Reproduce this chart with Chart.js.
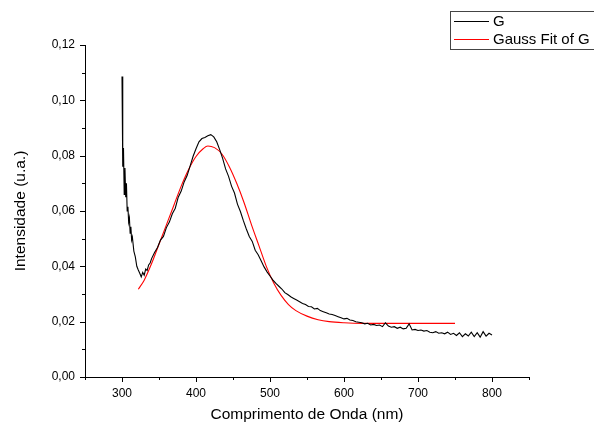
<!DOCTYPE html>
<html>
<head>
<meta charset="utf-8">
<script src="https://cdn.jsdelivr.net/npm/chart.js@4/dist/chart.umd.min.js"></script>
<style>
  html, body { margin: 0; padding: 0; background: #fff; }
  #wrap { width: 594px; height: 425px; }
</style>
</head>
<body>
<div id="wrap"><canvas id="chart"></canvas></div>
<script>
// dados
const gNm = [300, 301, 302, 303, 304, 305, 306, 307, 308, 309, 310, 311, 312, 313, 314, 316, 318, 320,
  322, 324, 326, 328, 330, 332, 334, 336, 338, 340, 344, 348, 352, 356, 360, 364, 368, 372, 376, 380,
  384, 388, 392, 396, 400, 404, 408, 412, 416, 420, 424, 428, 432, 436, 440, 444, 448, 452, 456, 460,
  464, 468, 472, 476, 480, 484, 488, 492, 496, 500, 504, 508, 512, 516, 520, 524, 528, 532, 536, 540,
  544, 548, 552, 556, 560, 564, 568, 572, 576, 580, 584, 588, 592, 596, 600, 604, 608, 612, 616, 620,
  624, 628, 632, 636, 640, 644, 648, 652, 656, 660, 664, 668, 672, 676, 680, 684, 688, 692, 696, 700,
  704, 708, 712, 716, 720, 724, 728, 732, 736, 740, 744, 748, 752, 756, 760, 764, 768, 772, 776, 780,
  784, 788, 792, 796, 800];
const gVal = [0.1086, 0.076, 0.0828, 0.066, 0.0755, 0.065, 0.070, 0.060, 0.0615, 0.056, 0.0575, 0.052, 0.0543, 0.0495, 0.0506, 0.0455, 0.0434, 0.0400,
  0.0387, 0.0375, 0.0362, 0.0378, 0.0368, 0.0390, 0.0385, 0.0405, 0.0412, 0.0428, 0.0450, 0.0468, 0.0495, 0.0508, 0.0540, 0.0560, 0.0590, 0.0610, 0.0650, 0.0672,
  0.0705, 0.0728, 0.0762, 0.0797, 0.0825, 0.0850, 0.0862, 0.0866, 0.0872, 0.0876, 0.0868, 0.0850, 0.0822, 0.0790, 0.0752, 0.0725, 0.0690, 0.0665, 0.0625, 0.0598,
  0.0565, 0.0535, 0.0508, 0.0490, 0.0458, 0.0442, 0.0420, 0.0398, 0.0380, 0.0365, 0.0350, 0.0338, 0.0328, 0.0318, 0.0305, 0.0298, 0.0290, 0.0284, 0.0278, 0.0272,
  0.0266, 0.0262, 0.0255, 0.0254, 0.0246, 0.0248, 0.0240, 0.0236, 0.0232, 0.0228, 0.0226, 0.0222, 0.0218, 0.0214, 0.0210, 0.0212, 0.0206, 0.0204, 0.0200, 0.0198,
  0.0196, 0.0192, 0.0194, 0.0188, 0.0190, 0.0186, 0.0188, 0.0182, 0.0196, 0.0184, 0.0180, 0.0182, 0.0176, 0.0180, 0.0174, 0.0176, 0.0192, 0.0170, 0.0172, 0.0168,
  0.0170, 0.0166, 0.0168, 0.0162, 0.0160, 0.0164, 0.0158, 0.0160, 0.0156, 0.0162, 0.0154, 0.0158, 0.0150, 0.0160, 0.0146, 0.0156, 0.0148, 0.0162, 0.0146, 0.0160,
  0.0144, 0.0164, 0.0148, 0.0158, 0.0152];

const fitNm = [322, 330, 340, 350, 360, 370, 380, 390, 400, 410, 416, 425, 435, 445, 455, 465, 475, 485,
  495, 505, 515, 525, 535, 550, 565, 580, 600, 625, 650, 700, 750];
const fitVal = [0.0317, 0.0350, 0.0410, 0.0480, 0.0550, 0.0620, 0.0690, 0.0750, 0.0797, 0.0826, 0.0835, 0.0829, 0.0806, 0.0760, 0.0700, 0.0630, 0.0550, 0.0475,
  0.0400, 0.0340, 0.0295, 0.0262, 0.0240, 0.0220, 0.0207, 0.0200, 0.0196, 0.0194, 0.0194, 0.0194, 0.0194];

const xTicks = [300, 400, 500, 600, 700, 800];
const xMinor = [250, 350, 450, 550, 650, 750, 850];
const yTicks = [0, 0.02, 0.04, 0.06, 0.08, 0.10, 0.12];
const yMinor = [0.01, 0.03, 0.05, 0.07, 0.09, 0.11];

const FONT = "'Liberation Sans', Arial, sans-serif";

function pts(xs, ys) {
  return xs.map(function (x, i) { return { x: x, y: ys[i] }; });
}

// marcas dos eixos (maiores e menores)
const tickMarks = {
  id: 'tickMarks',
  afterDraw: function (chart) {
    const ctx = chart.ctx;
    const xs = chart.scales.x, ys = chart.scales.y;
    const a = chart.chartArea;
    ctx.save();
    ctx.strokeStyle = '#000';
    ctx.lineWidth = 1;
    ctx.beginPath();
    xTicks.forEach(function (v) {
      const p = Math.round(xs.getPixelForValue(v)) + 0.5;
      ctx.moveTo(p, a.bottom); ctx.lineTo(p, a.bottom + 5);
    });
    xMinor.forEach(function (v) {
      const p = Math.round(xs.getPixelForValue(v)) + 0.5;
      ctx.moveTo(p, a.bottom); ctx.lineTo(p, a.bottom + 3);
    });
    yTicks.forEach(function (v) {
      const p = Math.round(ys.getPixelForValue(v)) + 0.5;
      ctx.moveTo(a.left, p); ctx.lineTo(a.left - 5, p);
    });
    yMinor.forEach(function (v) {
      const p = Math.round(ys.getPixelForValue(v)) + 0.5;
      ctx.moveTo(a.left, p); ctx.lineTo(a.left - 3, p);
    });
    ctx.stroke();
    ctx.restore();
  }
};

// legenda com caixa, no canto superior direito
const boxLegend = {
  id: 'boxLegend',
  afterDraw: function (chart) {
    const ctx = chart.ctx;
    ctx.save();
    ctx.strokeStyle = '#444';
    ctx.lineWidth = 1;
    ctx.strokeRect(450.5, 11.5, 170, 38);
    chart.data.datasets.forEach(function (ds, i) {
      const y = 21 + i * 18;
      ctx.strokeStyle = ds.borderColor;
      ctx.lineWidth = 1;
      ctx.beginPath();
      ctx.moveTo(454, y + 0.5); ctx.lineTo(489, y + 0.5);
      ctx.stroke();
      ctx.fillStyle = '#000';
      ctx.font = '15px ' + FONT;
      ctx.textBaseline = 'middle';
      ctx.textAlign = 'left';
      ctx.fillText(ds.label, 493, y + 1);
    });
    ctx.restore();
  }
};

new Chart(document.getElementById('chart'), {
  type: 'line',
  data: {
    datasets: [{
      label: 'G',
      data: pts(gNm, gVal),
      borderColor: '#000000',
      borderWidth: 1.1,
      pointRadius: 0,
      tension: 0
    }, {
      label: 'Gauss Fit of G',
      data: pts(fitNm, fitVal),
      borderColor: '#ff0000',
      borderWidth: 1.1,
      pointRadius: 0,
      cubicInterpolationMode: 'monotone'
    }]
  },
  options: {
    responsive: true,
    maintainAspectRatio: false,
    animation: false,
    layout: { padding: { top: 45, right: 65, left: 0, bottom: 0 } },
    plugins: {
      legend: { display: false },
      tooltip: { enabled: false }
    },
    scales: {
      x: {
        type: 'linear',
        min: 250,
        max: 850,
        afterBuildTicks: function (s) { s.ticks = xTicks.map(function (v) { return { value: v }; }); },
        afterFit: function (s) { s.height = 48; },
        grid: { display: false, drawTicks: false },
        border: { display: true, color: '#000', width: 1 },
        ticks: { padding: 9, color: '#000', font: { family: FONT, size: 12 }, maxRotation: 0 },
        title: {
          display: true,
          text: 'Comprimento de Onda (nm)',
          color: '#000',
          font: { family: FONT, size: 15.5 },
          padding: { top: 0, bottom: 1 }
        }
      },
      y: {
        min: 0,
        max: 0.12,
        afterBuildTicks: function (s) { s.ticks = yTicks.map(function (v) { return { value: v }; }); },
        afterFit: function (s) { s.width = 85; },
        grid: { display: false, drawTicks: false },
        border: { display: true, color: '#000', width: 1 },
        ticks: {
          padding: 10,
          color: '#000',
          font: { family: FONT, size: 12 },
          callback: function (v) { return v.toFixed(2).replace('.', ','); }
        },
        title: {
          display: true,
          text: 'Intensidade (u.a.)',
          color: '#000',
          font: { family: FONT, size: 15.5 },
          padding: { top: 11, bottom: 0 }
        }
      }
    }
  },
  plugins: [tickMarks, boxLegend]
});
</script>
</body>
</html>
